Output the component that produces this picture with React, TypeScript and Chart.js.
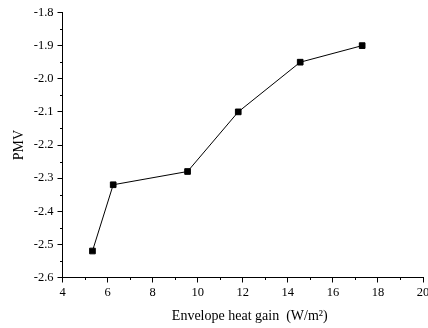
import React, { useEffect, useRef } from "react";
import { Chart, registerables } from "chart.js";

Chart.register(...registerables);

// Envelope heat gain (W/m²) vs. predicted mean vote
const heatGain: number[] = [5.33, 6.25, 9.55, 11.8, 14.55, 17.3];
const pmv: number[] = [-2.52, -2.32, -2.28, -2.1, -1.95, -1.9];

const xMin = 4;
const xMax = 20;
const xStep = 2;
const yMin = -2.6;
const yMax = -1.8;
const yStep = 0.1;

// leading spaces nudge the centred title a little to the right
const xTitle = "    Envelope heat gain  (W/m\u00B2)";
const yTitle = "PMV";

const FONT = "'Liberation Serif', 'Times New Roman', serif";

// Short ticks halfway between the labelled ones, placed through the scales
const minorTicks = {
  id: "minorTicks",
  afterDraw(chart: Chart) {
    const { ctx } = chart;
    const xs = chart.scales.x;
    const ys = chart.scales.y;
    ctx.save();
    ctx.strokeStyle = "#000";
    ctx.lineWidth = 1;
    ctx.beginPath();
    for (let v = xMin + xStep / 2; v < xMax; v += xStep) {
      const px = Math.round(xs.getPixelForValue(v)) + 0.5;
      ctx.moveTo(px, ys.bottom);
      ctx.lineTo(px, ys.bottom + 2.5);
    }
    const n = Math.round((yMax - yMin) / yStep);
    for (let i = 0; i < n; i++) {
      const v = yMin + (i + 0.5) * yStep;
      const py = Math.round(ys.getPixelForValue(v)) + 0.5;
      ctx.moveTo(xs.left, py);
      ctx.lineTo(xs.left - 2.5, py);
    }
    ctx.stroke();
    ctx.restore();
  },
};

export default function App() {
  const canvasRef = useRef<HTMLCanvasElement | null>(null);

  useEffect(() => {
    document.body.style.margin = "0";
    const canvas = canvasRef.current;
    if (!canvas) return;
    const chart = new Chart(canvas, {
      type: "line",
      data: {
        datasets: [
          {
            data: heatGain.map((x, i) => ({ x, y: pmv[i] })),
            borderColor: "#000",
            backgroundColor: "#000",
            borderWidth: 1,
            pointStyle: "rect",
            pointRadius: 4,
            pointBorderWidth: 1,
            pointBackgroundColor: "#000",
            pointBorderColor: "#000",
            tension: 0,
          },
        ],
      },
      options: {
        responsive: false,
        animation: false,
        layout: { padding: { top: 12.5, right: 2, left: 0, bottom: 0 } },
        plugins: {
          legend: { display: false },
          tooltip: { enabled: false },
        },
        scales: {
          x: {
            type: "linear",
            min: xMin,
            max: xMax,
            afterFit(scale: any) {
              scale.height = 50.5;
              scale.paddingLeft = 0;
              scale.paddingRight = 0;
            },
            ticks: {
              stepSize: xStep,
              color: "#000",
              padding: 3,
              maxRotation: 0,
              font: { family: FONT, size: 12.5 },
            },
            grid: {
              display: true,
              drawOnChartArea: false,
              drawTicks: true,
              tickLength: 5,
              tickColor: "#000",
            },
            border: { display: true, color: "#000", width: 1 },
            title: {
              display: true,
              text: xTitle,
              color: "#000",
              font: { family: FONT, size: 14 },
              padding: { top: 0, bottom: 3 },
            },
          },
          y: {
            type: "linear",
            min: yMin,
            max: yMax,
            afterFit(scale: any) {
              scale.width = 62.5;
              scale.paddingTop = 0;
              scale.paddingBottom = 0;
            },
            ticks: {
              stepSize: yStep,
              color: "#000",
              padding: 4,
              font: { family: FONT, size: 12.5 },
              callback: (v: any) => Number(v).toFixed(1),
            },
            grid: {
              display: true,
              drawOnChartArea: false,
              drawTicks: true,
              tickLength: 5,
              tickColor: "#000",
            },
            border: { display: true, color: "#000", width: 1 },
            title: {
              display: true,
              text: yTitle,
              color: "#000",
              font: { family: FONT, size: 14 },
              padding: { top: 11, bottom: 0 },
            },
          },
        },
      },
      plugins: [minorTicks],
    });
    return () => chart.destroy();
  }, []);

  return (
    <div style={{ width: 428, height: 328, background: "#fff" }}>
      <canvas ref={canvasRef} width={428} height={328} style={{ display: "block" }} />
    </div>
  );
}
